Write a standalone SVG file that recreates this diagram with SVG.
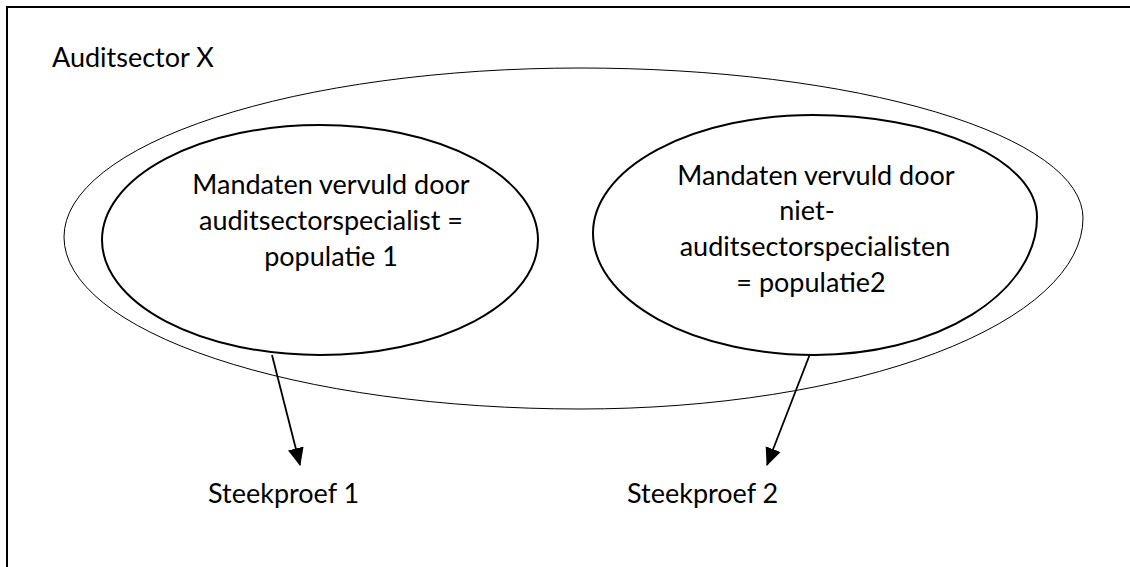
<svg xmlns="http://www.w3.org/2000/svg" width="1130" height="567" viewBox="0 0 1130 567">
<style>
  text { font-family: Lato, "Open Sans", "Liberation Sans", sans-serif; font-size: 27px; fill: #000; }
  .mid { text-anchor: middle; }
  .outer { fill: none; stroke: #000; stroke-width: 1; }
  .inner { fill: none; stroke: #000; stroke-width: 2; }
  .conn { stroke: #000; stroke-width: 1.8; fill: none; }
</style>
<defs>
  <marker id="arrow" markerUnits="userSpaceOnUse" markerWidth="18" markerHeight="18" viewBox="0 0 18 18" refX="17" refY="9" orient="auto">
    <path d="M0,1 L18,9 L0,17 Z" fill="#000"/>
  </marker>
</defs>
<rect x="0" y="0" width="1130" height="567" fill="#fff"/>
<path d="M 7 567 L 7 7 L 1130 7" fill="none" stroke="#000" stroke-width="2"/>
<text x="52" y="67">Auditsector X</text>
<g id="auditsector">
  <path class="outer" d="M 64 237 A 516 169 0 0 1 580 68 A 503 150 0 0 1 1083 218 A 503 191 0 0 1 580 409 A 516 172 0 0 1 64 237 Z"/>
</g>
<g id="populatie1">
  <ellipse class="inner" cx="320" cy="240" rx="218" ry="115"/>
  <text class="mid" x="331" y="194">Mandaten vervuld door</text>
  <text class="mid" x="331" y="230">auditsectorspecialist =</text>
  <text class="mid" x="331" y="266">populatie 1</text>
</g>
<g id="populatie2">
  <path class="inner" d="M 593 233 A 220 118 0 0 1 813 115 A 224 102 0 0 1 1037 217 A 222 138 0 0 1 815 355 A 222 122 0 0 1 593 233 Z"/>
  <text class="mid" x="816" y="185">Mandaten vervuld door</text>
  <text class="mid" x="807" y="220">niet-</text>
  <text class="mid" x="815" y="256">auditsectorspecialisten</text>
  <text class="mid" x="811" y="292">= populatie2</text>
</g>
<g id="steekproef1">
  <text x="208" y="503">Steekproef 1</text>
</g>
<g id="steekproef2">
  <text x="627" y="503">Steekproef 2</text>
</g>
<g id="connectors">
  <line class="conn" x1="272" y1="355" x2="300" y2="465" marker-end="url(#arrow)"/>
  <line class="conn" x1="810" y1="354" x2="767" y2="465" marker-end="url(#arrow)"/>
</g>
</svg>
